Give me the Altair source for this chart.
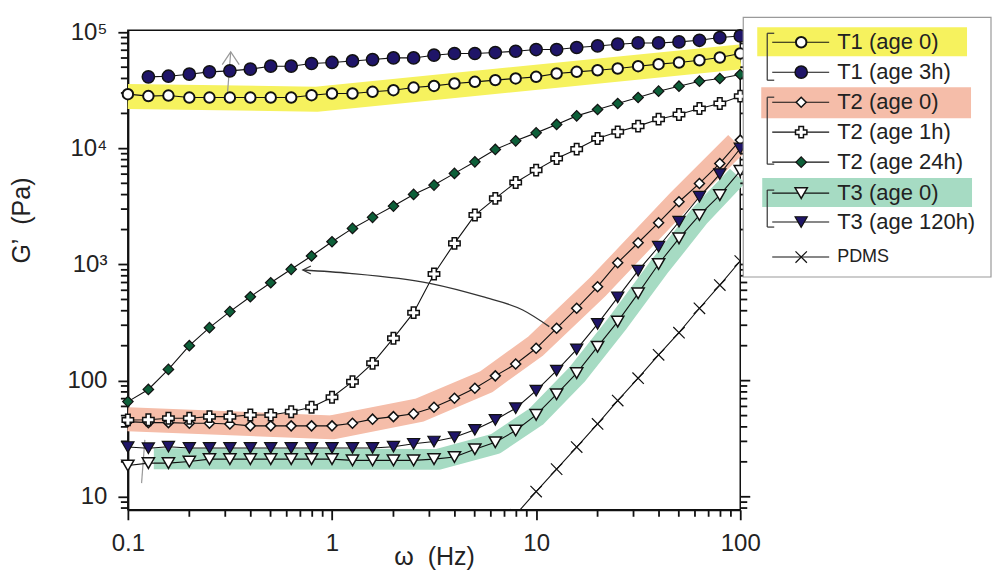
import altair as alt
import pandas as pd

# frequency grid, 10 points per decade (Hz)
FREQ = [0.1, 0.126, 0.158, 0.2, 0.251, 0.316, 0.398, 0.501, 0.631, 0.794,
        1.0, 1.26, 1.58, 2.0, 2.51, 3.16, 3.98, 5.01, 6.31, 7.94,
        10.0, 12.6, 15.8, 20.0, 25.1, 31.6, 39.8, 50.1, 63.1, 79.4, 100.0]

# G' (Pa)
T1_AGE0 = [29300, 28200, 28500, 27400, 27400, 27400, 27400, 27400, 27400, 28700,
           29700, 29700, 30700, 31700, 33400, 34500, 36200, 37400, 38700, 40000,
           41300, 44100, 45600, 47100, 48700, 51000, 53100, 54900, 57400, 60600, 65600]
T1_AGE3H = [41300, 41800, 43500, 45600, 46500, 48100, 51000, 51000, 53800,      # from FREQ[1]
            54900, 56600, 58200, 60100, 60100, 63400, 65600, 65600, 66900, 68600,
            71000, 71000, 73900, 76200, 78900, 80900, 80900, 82600, 85300, 90000, 92900]
T2_AGE0 = [44.4, 43.5, 43.5, 43, 43, 42.3, 40.8, 40.8, 40.8, 40.8,
           40.8, 43, 46.6, 49, 51.8, 59, 70.6, 86, 110, 139,
           190, 283, 420, 644, 1036, 1540, 2290, 3470, 4990, 7420, 11780]
T2_AGE1H = [45.9, 46, 47.5, 47.5, 49, 49, 50.6, 50.6, 54, 59,
            72, 98, 141, 232, 385, 829, 1521, 2666, 3710, 5090,
            6500, 8190, 9850, 12180, 13880, 15540, 17850, 19590, 22060, 24360, 28150]
T2_AGE24H = [66, 84, 125, 200, 286, 393, 528, 697, 909, 1184,
             1570, 2046, 2547, 3186, 4015, 4830, 6090, 7660, 9790, 11610,
             13600, 16070, 19050, 21630, 24360, 27440, 31080, 34310, 37890, 39970, 43250]
T3_AGE0 = [18.6, 19.5, 19.5, 20.1, 21.1, 21.1, 21.1, 21.1, 21.1, 21.1,
           21.1, 20.6, 20.6, 20.6, 20.6, 21.1, 22, 25.7, 29.5, 37.2,
           50.7, 76.4, 116, 196, 322, 565, 1010, 1680, 2666, 3960, 6410]
T3_AGE120H = [26.8, 26.2, 27, 26.3, 26.3, 26.3, 26.3, 26.3, 26.3, 26.3,
              26.3, 26.3, 26.3, 27, 28.6, 29.9, 32.6, 37.7, 45.9, 57.9,
              82, 122, 186, 308, 522, 885, 1422, 2335, 3832, 6003, 9980]
PDMS = [7.0, 11.1, 17.3, 26.8, 42.4, 67.4, 105, 167, 259, 420, 666, 1072]   # from FREQ[19]

# highlight bands (centre lines)
BAND_T1_X = [0.1, 0.84, 100]
BAND_T1_Y = [28000, 26500, 61300]
BAND_T2_X = [0.1, 1.0, 2.7, 5.7, 10, 20, 50, 96]
BAND_T2_Y = [46.5, 39.6, 56, 98, 200, 640, 3500, 11000]
BAND_T3_X = [0.134, 3.3, 6.3, 10, 15.8, 25, 40, 63, 97]
BAND_T3_Y = [21.3, 21, 28.5, 49, 112, 310, 950, 2600, 5800]

# annotations
ARROW_X = [0.72, 1.22, 3.01, 5.47, 8.6, 11.6]
ARROW_Y = [897, 840, 689, 528, 406, 292]
UP_X = [0.308, 0.319]
UP_Y = [30700, 67700]
TICKLINE_X = [0.1211, 0.1167]
TICKLINE_Y = [30.9, 13.1]

X_TICK_LABELS = {0.1: "0.1", 1: "1", 10: "10", 100: "100"}
Y_TICK_LABELS = {10: "10", 100: "100", 1000: "10³", 10000: "10⁴", 100000: "10⁵"}

LABELS = ["T1 (age 0)", "T1 (age 3h)", "T2 (age 0)", "T2 (age 1h)",
          "T2 (age 24h)", "T3 (age 0)", "T3 (age 120h)", "PDMS"]
SERIES = {
    "T1 (age 0)": (FREQ, T1_AGE0),
    "T1 (age 3h)": (FREQ[1:], T1_AGE3H),
    "T2 (age 0)": (FREQ, T2_AGE0),
    "T2 (age 1h)": (FREQ, T2_AGE1H),
    "T2 (age 24h)": (FREQ, T2_AGE24H),
    "T3 (age 0)": (FREQ, T3_AGE0),
    "T3 (age 120h)": (FREQ, T3_AGE120H),
    "PDMS": (FREQ[19:], PDMS),
}

NAVY = "#1f1568"
XPATH = "M-1,-1L1,1M1,-1L-1,1"
STYLE = {
    "T1 (age 0)": dict(shape="circle", fill="white", size=110, sw=2.0),
    "T1 (age 3h)": dict(shape="circle", fill=NAVY, size=150, sw=1.5),
    "T2 (age 0)": dict(shape="diamond", fill="white", size=100, sw=1.5),
    "T2 (age 1h)": dict(shape="cross", fill="white", size=130, sw=1.5),
    "T2 (age 24h)": dict(shape="diamond", fill="#0d5f39", size=110, sw=1.2),
    "T3 (age 0)": dict(shape="triangle-down", fill="white", size=150, sw=1.5),
    "T3 (age 120h)": dict(shape="triangle-down", fill=NAVY, size=150, sw=1.2),
    "PDMS": dict(shape=XPATH, fill=None, size=130, sw=1.2),
}

W, H = 613, 480
X_DOM = [0.1, 100]
Y_DOM = [7.73, 104000]
FONT = "Liberation Sans"
INK = "#111"

x_major = list(X_TICK_LABELS)
y_major = list(Y_TICK_LABELS)
x_minor = [round(m * d, 3) for d in (0.1, 1, 10) for m in range(2, 10)]
y_minor = [m * d for d in (1, 10, 100, 1000, 10000) for m in range(2, 10)]
y_minor = [v for v in y_minor if v >= 8]


def label_expr(mapping):
    expr = "''"
    for v, t in reversed(list(mapping.items())):
        expr = f"datum.value == {v} ? '{t}' : ({expr})"
    return expr


common = dict(tickSize=10, tickWidth=1.8, tickColor=INK,
              domainColor=INK, domainWidth=2, grid=False,
              labelFont=FONT, labelFontSize=24, labelColor="#222",
              labelOverlap=False, labelFlush=False,
              titleFont=FONT, titleFontSize=25, titleColor="#222", titleFontWeight="normal")

x_axis = alt.Axis(values=x_major, labelExpr=label_expr(X_TICK_LABELS), labelPadding=12,
                  title="ω\u00a0 (Hz)", titleX=W / 2, titleY=47,
                  titleBaseline="middle", titleAlign="center", **common)
y_axis = alt.Axis(values=y_major, labelExpr=label_expr(Y_TICK_LABELS), labelPadding=11,
                  title="G’\u00a0 (Pa)", titleX=-106, titleY=190, titleAngle=270,
                  titleBaseline="middle", titleAlign="center", **common)

X = alt.X("f:Q", scale=alt.Scale(type="log", domain=X_DOM, nice=False), axis=x_axis)
Y = alt.Y("g:Q", scale=alt.Scale(type="log", domain=Y_DOM, nice=False), axis=y_axis)


def frame(xs, ys):
    return pd.DataFrame({"f": xs, "g": ys})


layers = []
for bx, by, col, w in [(BAND_T1_X, BAND_T1_Y, "#f6f25e", 25),
                       (BAND_T2_X, BAND_T2_Y, "#f5bda9", 24),
                       (BAND_T3_X, BAND_T3_Y, "#a6dbc3", 21)]:
    layers.append(alt.Chart(frame(bx, by)).mark_line(
        color=col, strokeWidth=w, strokeCap="butt", strokeJoin="round").encode(x=X, y=Y))

# minor ticks (and right-hand mirror ticks)
xt = pd.DataFrame({"f": x_minor})
yt_min = pd.DataFrame({"g": y_minor})
yt_maj = pd.DataFrame({"g": y_major})
tick = dict(color=INK, strokeWidth=1.8)
layers += [
    alt.Chart(xt).mark_rule(**tick).encode(x=X, y=alt.value(H), y2=alt.value(H + 7)),
    alt.Chart(yt_min).mark_rule(**tick).encode(y=Y, x=alt.value(-7), x2=alt.value(0)),
    alt.Chart(yt_min).mark_rule(**tick).encode(y=Y, x=alt.value(W), x2=alt.value(W + 7)),
    alt.Chart(yt_maj).mark_rule(**tick).encode(y=Y, x=alt.value(W), x2=alt.value(W + 10)),
]

layers.append(alt.Chart(frame(TICKLINE_X, TICKLINE_Y)).mark_line(color="#999", strokeWidth=1.2).encode(x=X, y=Y))
layers.append(alt.Chart(frame(UP_X, UP_Y)).mark_line(color="#999", strokeWidth=1.2).encode(x=X, y=Y))
layers.append(alt.Chart(frame(UP_X[1:], UP_Y[1:])).mark_point(
    shape="M-1,1.5L0,0L1,1.5", size=289, filled=False, stroke="#999", strokeWidth=1.2,
    opacity=1).encode(x=X, y=Y))

for name in LABELS:
    xs, ys = SERIES[name]
    st = STYLE[name]
    clip = name == "PDMS"
    df = frame(xs, ys)
    layers.append(alt.Chart(df).mark_line(color="#111", strokeWidth=1.1, clip=clip).encode(x=X, y=Y))
    if st["fill"] is None:
        pt = alt.Chart(df).mark_point(shape=st["shape"], size=st["size"], filled=False,
                                      stroke="#111", strokeWidth=st["sw"], opacity=1, clip=clip)
    else:
        pt = alt.Chart(df).mark_point(shape=st["shape"], size=st["size"], filled=True,
                                      fill=st["fill"], stroke="#111", strokeWidth=st["sw"],
                                      opacity=1, clip=clip)
    layers.append(pt.encode(x=X, y=Y))

# curved arrow T2 (age 0) -> T2 (age 24h)
layers.append(alt.Chart(frame(ARROW_X, ARROW_Y)).mark_line(
    color="#333", strokeWidth=1.3, interpolate="monotone").encode(x=X, y=Y))
layers.append(alt.Chart(frame(ARROW_X[:1], ARROW_Y[:1])).mark_point(
    shape="M2,-1L0,0L2,1", size=64, filled=False, stroke="#333", strokeWidth=1.3,
    opacity=1).encode(x=X, y=Y))

main = alt.layer(*layers)

# ---- legend (own linear scales, units = pixels from plot origin) ----
LEG_Y = [12, 42, 72, 102, 132, 163, 192, 227]
LEG_FS = [22, 22, 22, 22, 22, 22, 22, 18]
leg = pd.DataFrame({"label": LABELS, "ly": LEG_Y, "fs": LEG_FS,
                    "lx1": 645, "lx2": 702, "mx": 674, "tx": 710})
box = pd.DataFrame({"x": [616], "x2": [864], "y": [-13], "y2": [247]})
hl = pd.DataFrame({"x": [630, 634, 635], "x2": [840, 844, 845],
                   "y": [-3, 57, 148], "y2": [26, 88, 177],
                   "c": ["#f6f25e", "#f5bda9", "#a6dbc3"]})
br = pd.DataFrame({"xb": 640, "xs": 647, "top": [3, 67, 160], "bot": [50, 134, 197]})


def LX(field):
    return alt.X(f"{field}:Q", scale=alt.Scale(domain=[0, W], nice=False, zero=False), axis=None)


def LY(field):
    return alt.Y(f"{field}:Q", scale=alt.Scale(domain=[0, H], nice=False, zero=False, reverse=True),
                 axis=None)


leg_layers = [
    alt.Chart(box).mark_rect(fill="white", stroke="#9a9a9a", strokeWidth=1.2).encode(
        x=LX("x"), x2="x2:Q", y=LY("y"), y2="y2:Q"),
    alt.Chart(hl).mark_rect().encode(x=LX("x"), x2="x2:Q", y=LY("y"), y2="y2:Q",
                                     color=alt.Color("c:N", scale=None)),
    alt.Chart(br).mark_rule(color="#333", strokeWidth=1.2).encode(x=LX("xb"), y=LY("top"), y2="bot:Q"),
    alt.Chart(br).mark_rule(color="#333", strokeWidth=1.2).encode(x=LX("xb"), x2="xs:Q", y=LY("top")),
    alt.Chart(br).mark_rule(color="#333", strokeWidth=1.2).encode(x=LX("xb"), x2="xs:Q", y=LY("bot")),
    alt.Chart(leg).mark_rule(color="#111", strokeWidth=1.1).encode(x=LX("lx1"), x2="lx2:Q", y=LY("ly")),
]
for i, name in enumerate(LABELS):
    st = STYLE[name]
    row = leg.iloc[[i]]
    if st["fill"] is None:
        m = alt.Chart(row).mark_point(shape=st["shape"], size=st["size"], filled=False,
                                      stroke="#111", strokeWidth=st["sw"], opacity=1)
    else:
        m = alt.Chart(row).mark_point(shape=st["shape"], size=st["size"], filled=True,
                                      fill=st["fill"], stroke="#111", strokeWidth=st["sw"], opacity=1)
    leg_layers.append(m.encode(x=LX("mx"), y=LY("ly")))
leg_layers.append(alt.Chart(leg).mark_text(align="left", baseline="middle", font=FONT, color="#222").encode(
    x=LX("tx"), y=LY("ly"), text="label:N", size=alt.Size("fs:Q", scale=None)))

legend = alt.layer(*leg_layers)

chart = (
    alt.layer(main, legend)
    .resolve_scale(x="independent", y="independent")
    .properties(width=W, height=H,
                autosize=alt.AutoSizeParams(type="none"),
                padding={"left": 120, "top": 22, "right": 252, "bottom": 61})
    .configure_view(stroke="#111", strokeWidth=1.5)
)

chart.save("out.html", embed_options={"renderer": "svg", "actions": False})
